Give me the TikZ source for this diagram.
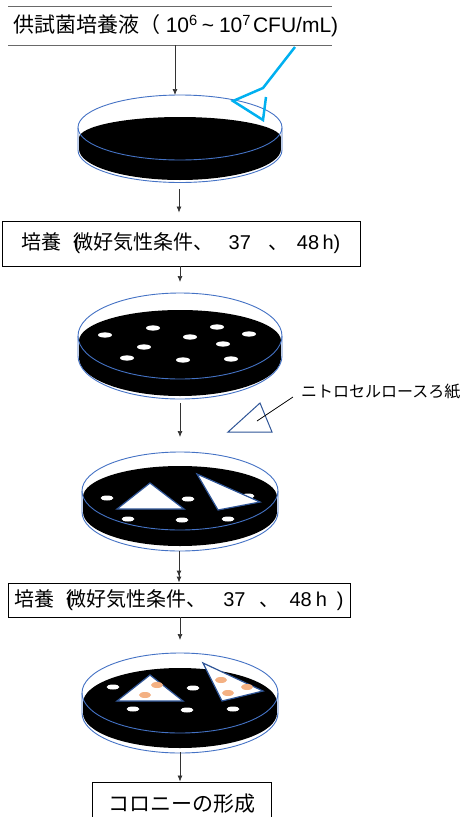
\documentclass[tikz,border=0pt]{standalone}
\usepackage{fontspec}
\setmainfont{Liberation Sans}
\newfontfamily\jpfont{Noto Sans CJK JP}
\newcommand{\ja}[1]{{\jpfont #1}}
\usetikzlibrary{arrows.meta, positioning}
\definecolor{lidblue}{RGB}{68, 114, 196}
\definecolor{filmblue}{RGB}{47, 85, 151}
\definecolor{tipcyan}{RGB}{0, 176, 240}
\definecolor{colony}{RGB}{244, 177, 131}
\definecolor{rulegray}{RGB}{105, 105, 105}

% agar body: rx, top centre, top ry, base centre, base ry
\newcommand{\agar}[5]{%
  \fill (180,#2) ellipse[x radius=#1, y radius=#3];
  \fill (180-#1,#2) rectangle (180+#1,#4);
  \fill (180,#4) ellipse[x radius=#1, y radius=#5];}
% lid: rx, rim centre, ry, lower rim centre
\newcommand{\lid}[4]{%
  \draw[lidline] (180,#2) ellipse[x radius=#1, y radius=#3];
  \draw[lidline] (180-#1,#2) -- (180-#1,#4)
    arc[start angle=180, end angle=0, x radius=#1, y radius=#3] -- (180+#1,#2);}

\begin{document}
\begin{tikzpicture}[x=1pt, y=-1pt,
        box/.style={rectangle, draw=black, line width=0.9pt, fill=white, inner sep=0pt, align=center},
        arrow/.style={-{Latex[length=6pt, width=5pt]}, line width=0.7pt, draw=black!80},
        lidline/.style={draw=lidblue, line width=0.9pt},
        film/.style={draw=filmblue, fill=white, line width=1.2pt, line join=miter},
        colonyspot/.style={fill=white},
        orange/.style={fill=colony}
    ]
    \useasboundingbox (0,0) rectangle (466,817);

    % sample suspension
    \draw[rulegray, line width=0.9pt] (8,6) -- (332,6);
    \draw[rulegray, line width=0.9pt] (8,45) -- (332,45);
    \node[inner sep=0pt, font=\fontsize{21}{24}\selectfont] (src) at (176,26)
        {\ja{供試菌培養液（}\hspace{5pt}10\textsuperscript{6}\hspace{4pt}\textasciitilde\hspace{5pt}10\textsuperscript{7}\hspace{2pt}CFU/mL)};
    \coordinate (srcout) at (175,45);

    % plate 1
    \agar{101}{138}{21}{149}{31}
    \lid{102}{127.5}{32.5}{150}
    \coordinate (d1in) at (175,95);
    \coordinate (d1out) at (179,189);
    \draw[tipcyan, line width=2.5pt, line join=miter]
        (295,47) -- (263,88) -- (233,101) -- (263,120) -- (266,97);

    % first incubation
    \node[box, minimum width=358, minimum height=45, font=\fontsize{20}{24}\selectfont] (incub1) at (181,243.5)
        {\ja{培養}\hspace{12pt}\rlap{(}\ja{微好気性条件、}\hspace{15pt}37\hspace{18pt}\ja{、}\hspace{8pt}48\,h)};

    % plate 2
    \agar{101}{341}{31}{358}{38}
    \foreach \x/\y in {105/335, 153/328, 217/327, 249/334, 190/337, 144/347, 223/344, 127/358, 183/360, 231/359}
        \fill[colonyspot] (\x,\y) ellipse[x radius=7, y radius=2.6];
    \lid{102}{336}{43}{356}
    \coordinate (d2in) at (180,282);
    \coordinate (d2out) at (180,403);

    % nitrocellulose filter
    \draw[film, line width=1pt] (228,432) -- (260,403) -- (272,432) -- cycle;
    \coordinate (filter) at (257,421);
    \coordinate (lead) at (293,397);
    \node[anchor=west, inner sep=0pt, font=\fontsize{16}{18}\selectfont] (nclabel) at (301,392) {\ja{ニトロセルロースろ紙}};
    \draw[line width=0.8pt] (filter) -- (lead);

    % plate 3
    \agar{97}{497}{31}{512}{34}
    \foreach \x/\y in {107/498, 188/499, 128/519, 182/520, 228/519, 248/496}
        \fill[colonyspot] (\x,\y) ellipse[x radius=6.5, y radius=2.5];
    \draw[film] (117,509) -- (150,483) -- (184,509) -- cycle;
    \draw[film] (197,474) -- (260,502) -- (218,510) -- cycle;
    \lid{98}{491}{39}{512}
    \coordinate (d3in) at (180,437);
    \coordinate (d3out) at (179,551);

    % second incubation
    \node[box, minimum width=342, minimum height=34, font=\fontsize{20}{24}\selectfont] (incub2) at (179,600)
        {\ja{培養}\hspace{12pt}\rlap{(}\ja{微好気性条件、}\hspace{17pt}37\hspace{14pt}\ja{、}\hspace{10pt}48\hspace{4pt}h\hspace{10pt})};

    % plate 4
    \agar{97}{703}{35}{713}{35}
    \foreach \x/\y in {113/687, 193/688, 133/709, 187/710, 233/709}
        \fill[colonyspot] (\x,\y) ellipse[x radius=6.5, y radius=2.5];
    \draw[film] (117,701) -- (150,675) -- (183,701) -- cycle;
    \draw[film] (203,663) -- (263,691) -- (222,701) -- cycle;
    \foreach \x/\y in {157/685, 145/695, 221/680, 247/687, 228/693}
        \fill[orange] (\x,\y) ellipse[x radius=6, y radius=3];
    \lid{98}{693}{40}{713}
    \coordinate (d4in) at (180,640);
    \coordinate (d4out) at (180,752);

    % result
    \node[box, minimum width=179, minimum height=44, font=\fontsize{21}{24}\selectfont] (result) at (181.5,804) {\ja{コロニーの形成}};

    \draw[arrow] (srcout) -- (d1in);
    \draw[arrow, shorten >=8pt] (d1out) -- (d1out |- incub1.north);
    \draw[arrow] (incub1.south -| d2in) -- (d2in);
    \draw[arrow] (d2out) -- (d3in);
    \draw[-{Latex[length=6pt, width=5pt] Latex[length=6pt, width=5pt]}, line width=0.9pt, draw=black!80] (d3out) -- (d3out |- incub2.north);
    \draw[arrow] (incub2.south -| d4in) -- (d4in);
    \draw[arrow] (d4out) -- (d4out |- result.north);
\end{tikzpicture}
\end{document}
